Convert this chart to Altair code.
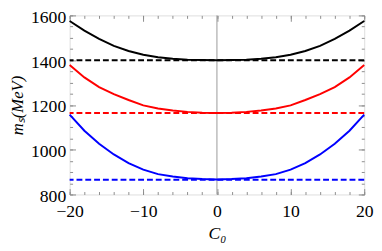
import altair as alt
import pandas as pd

C = [-20, -18, -16, -14, -12, -10, -8, -6, -4, -2, 0, 2, 4, 6, 8, 10, 12, 14, 16, 18, 20]
black = [1575, 1532, 1495, 1464, 1441, 1424, 1413, 1406, 1402, 1400.5, 1400,
         1400.5, 1402, 1406, 1413, 1424, 1441, 1464, 1495, 1532, 1575]
red = [1378, 1323, 1280, 1248, 1222, 1198, 1184, 1175, 1169, 1165, 1164,
       1165, 1169, 1175, 1184, 1198, 1222, 1248, 1280, 1323, 1378]
blue = [1157, 1085, 1027, 979, 940, 911, 891, 880, 873, 869, 867,
        869, 873, 880, 891, 911, 940, 979, 1027, 1085, 1157]
series_names = ["black", "red", "blue"]
series_colors = ["#000000", "#ff0000", "#0000ff"]
dashed_levels = [1400, 1164, 866]

x_major = [-20, -10, 0, 10, 20]
x_minor = list(range(-20, 21, 2))
y_major = [800, 1000, 1200, 1400, 1600]
y_minor = list(range(800, 1601, 50))

rows = []
for name, vals in zip(series_names, [black, red, blue]):
    for c, v in zip(C, vals):
        rows.append({"C": c, "m": v, "s": name})
df = pd.DataFrame(rows)
dash_df = pd.DataFrame({"v": dashed_levels, "s": series_names})
zero_df = pd.DataFrame({"z": [0]})

W, H = 301, 183
FONT = "Liberation Serif, Times New Roman, serif"
TICK = "#8c8c8c"

xs = alt.Scale(domain=[-20, 20], nice=False, zero=False)
ys = alt.Scale(domain=[800, 1600], nice=False, zero=False)
cs = alt.Scale(domain=series_names, range=series_colors)


def tick_axis(orient, offset, values, size):
    return alt.Axis(orient=orient, offset=offset, values=values, tickSize=size,
                    tickColor=TICK, tickWidth=1, labels=False, domain=False,
                    grid=False, title=None)


curves = alt.Chart(df).mark_line(strokeWidth=2).encode(
    x=alt.X("C:Q", scale=xs, axis=alt.Axis(
        orient="bottom", values=x_major, ticks=False, tickSize=0, domain=False,
        grid=False, format="d", labelFlush=False, labelOverlap=False,
        labelFont=FONT, labelFontSize=18, labelColor="#000",
        labelPadding=8, title="C₀", titleFont=FONT, titleFontSize=18,
        titleFontStyle="italic", titleFontWeight="normal", titleColor="#000",
        titleY=40, titleBaseline="middle")),
    y=alt.Y("m:Q", scale=ys, axis=alt.Axis(
        orient="left", values=y_major, ticks=False, tickSize=0, domain=False,
        grid=False, format="d", labelFlush=False, labelOverlap=False,
        labelFont=FONT, labelFontSize=18, labelColor="#000",
        labelPadding=4, labelOffset=2, title="mₛ(MeV)", titleFont=FONT,
        titleFontSize=17, titleFontStyle="italic", titleFontWeight="normal",
        titleColor="#000", titleX=-53, titleBaseline="middle")),
    color=alt.Color("s:N", scale=cs, legend=None),
    detail="s:N",
)

dashes = alt.Chart(dash_df).mark_rule(strokeWidth=2, strokeDash=[6, 3]).encode(
    y=alt.Y("v:Q", scale=ys, axis=tick_axis("right", -W, y_minor, 3)),
    color=alt.Color("s:N", scale=cs, legend=None),
)

zero = alt.Chart(zero_df).mark_rule(color="#999999", strokeWidth=1).encode(
    x=alt.X("z:Q", scale=xs, axis=tick_axis("top", -H, x_minor, 3)),
)

d1 = alt.Chart(df).mark_point(opacity=0).encode(
    x=alt.X("C:Q", scale=xs, axis=tick_axis("bottom", -H, x_minor, 3)),
    y=alt.Y("m:Q", scale=ys, axis=tick_axis("left", -W, y_minor, 3)),
)
d2 = alt.Chart(df).mark_point(opacity=0).encode(
    x=alt.X("C:Q", scale=xs, axis=tick_axis("top", -H, x_major, 6)),
    y=alt.Y("m:Q", scale=ys, axis=tick_axis("right", -W, y_major, 6)),
)
d3 = alt.Chart(df).mark_point(opacity=0).encode(
    x=alt.X("C:Q", scale=xs, axis=tick_axis("bottom", -H, x_major, 6)),
    y=alt.Y("m:Q", scale=ys, axis=tick_axis("left", -W, y_major, 6)),
)

chart = alt.layer(zero, curves, dashes, d1, d2, d3).resolve_axis(
    x="independent", y="independent"
).properties(
    width=W, height=H,
    autosize=alt.AutoSizeParams(type="none"),
    padding={"left": 63, "top": 5, "right": 10, "bottom": 47},
).configure_view(stroke="#999999", strokeWidth=1).configure(background="white")

chart.save("out.html", embed_options={"renderer": "svg", "actions": False})
